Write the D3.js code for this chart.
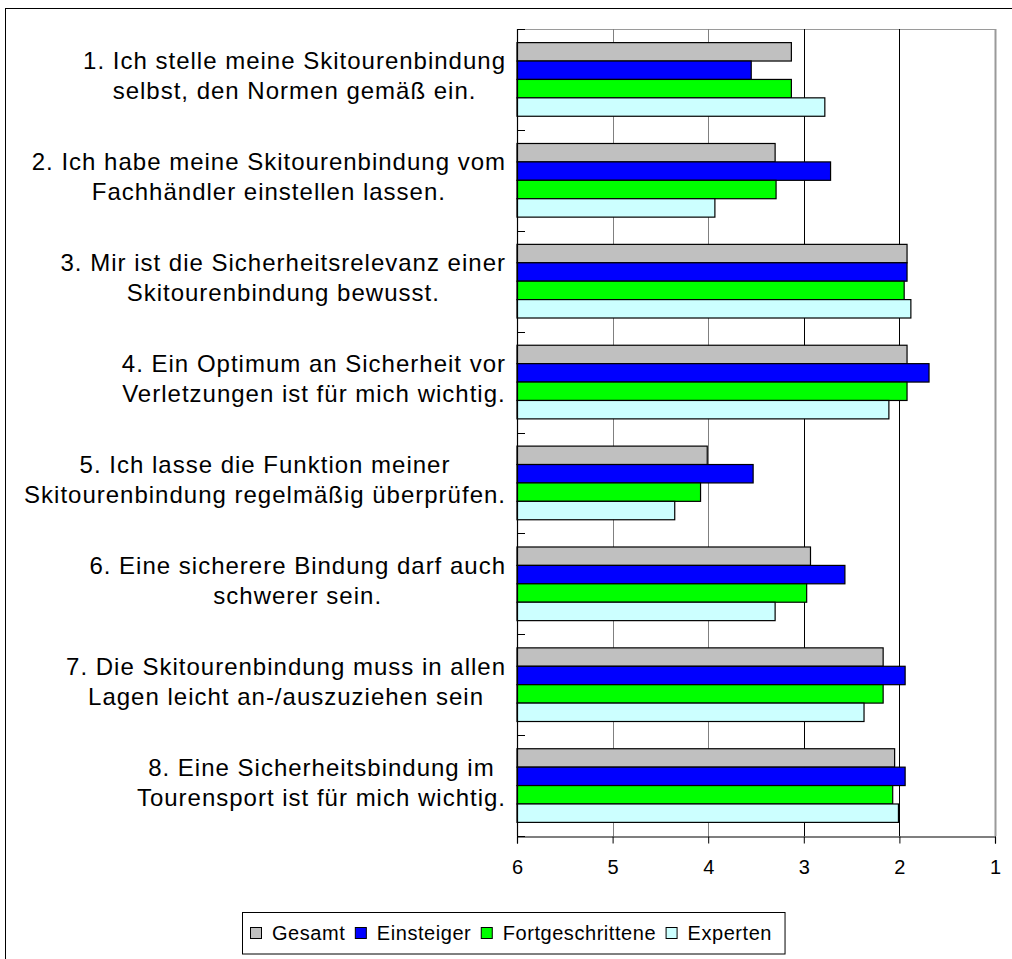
<!DOCTYPE html>
<html>
<head>
<meta charset="utf-8">
<script src="https://cdn.jsdelivr.net/npm/d3@7"></script>
<style>
  html, body { margin: 0; padding: 0; background: #fff; }
  svg { display: block; }
  text { font-family: "Liberation Sans", Arial, Helvetica, sans-serif; fill: #000; }
</style>
</head>
<body>
<svg id="chart" width="1012" height="959"></svg>
<script>
// ---- data ----
const categories = [
  "1. Ich stelle meine Skitourenbindung\nselbst, den Normen gemäß ein.",
  "2. Ich habe meine Skitourenbindung vom\nFachhändler einstellen lassen.",
  "3. Mir ist die Sicherheitsrelevanz einer\nSkitourenbindung bewusst.",
  "4. Ein Optimum an Sicherheit vor\nVerletzungen ist für mich wichtig.",
  "5. Ich lasse die Funktion meiner\nSkitourenbindung regelmäßig überprüfen.",
  "6. Eine sicherere Bindung darf auch\nschwerer sein.",
  "7. Die Skitourenbindung muss in allen\nLagen leicht an-/auszuziehen sein",
  "8. Eine Sicherheitsbindung im\nTourensport ist für mich wichtig."
];
const seriesNames = ["Gesamt", "Einsteiger", "Fortgeschrittene", "Experten"];
const gesamt           = [3.13, 3.30, 1.92, 1.92, 4.01, 2.93, 2.17, 2.05];
const einsteiger       = [3.55, 2.72, 1.92, 1.69, 3.53, 2.57, 1.94, 1.94];
const fortgeschrittene = [3.13, 3.29, 1.95, 1.92, 4.08, 2.97, 2.17, 2.07];
const experten         = [2.78, 3.93, 1.88, 2.11, 4.35, 3.30, 2.37, 2.01];
const tickValues = [6, 5, 4, 3, 2, 1];
const seriesColors = ["#C0C0C0", "#0000FF", "#00FF00", "#CCFFFF"];

const seriesValues = [gesamt, einsteiger, fortgeschrittene, experten];

// ---- layout ----
const svg = d3.select("#chart");
const plot = { left: 517, right: 995, top: 29, bottom: 836 };

// outer frame (cut off at right/bottom like the reference)
svg.append("rect")
  .attr("x", 5.5).attr("y", 8.5)
  .attr("width", 1020).attr("height", 970)
  .attr("fill", "#fff").attr("stroke", "#000").attr("stroke-width", 1);

const x = d3.scaleLinear().domain([6, 1]).range([plot.left, plot.right]);
const y0 = d3.scaleBand().domain(d3.range(categories.length))
  .range([plot.top, plot.bottom]).paddingInner(0.27).paddingOuter(0.135);
const y1 = d3.scaleBand().domain(d3.range(seriesNames.length))
  .range([0, y0.bandwidth()]);
const step = y0.step();

// plot area border (top and right, grey)
svg.append("line")
  .attr("x1", plot.left).attr("x2", plot.right)
  .attr("y1", plot.top + 0.5).attr("y2", plot.top + 0.5)
  .attr("stroke", "#9a9a9a").attr("stroke-width", 1);
svg.append("line")
  .attr("x1", plot.right + 0.5).attr("x2", plot.right + 0.5)
  .attr("y1", plot.top).attr("y2", plot.bottom)
  .attr("stroke", "#9a9a9a").attr("stroke-width", 2);

// vertical gridlines
svg.append("g").selectAll("line")
  .data(tickValues.filter(v => v !== 6 && v !== 1))
  .join("line")
  .attr("x1", d => Math.round(x(d)) + 0.5).attr("x2", d => Math.round(x(d)) + 0.5)
  .attr("y1", plot.top).attr("y2", plot.bottom)
  .attr("stroke", d => d >= 4 ? "#808080" : "#000")
  .attr("stroke-width", 1);

// bars
const groups = svg.append("g").selectAll("g")
  .data(categories.map((c, i) => i))
  .join("g")
  .attr("transform", i => `translate(0,${y0(i)})`);

groups.selectAll("rect")
  .data(i => seriesValues.map((vals, s) => ({ s, v: vals[i] })))
  .join("rect")
  .attr("x", x(6))
  .attr("y", d => y1(d.s))
  .attr("width", d => x(d.v) - x(6))
  .attr("height", y1.bandwidth())
  .attr("fill", d => seriesColors[d.s])
  .attr("stroke", "#000")
  .attr("stroke-width", 1.2);

// left axis line with inward ticks at category boundaries
svg.append("line")
  .attr("x1", plot.left + 0.5).attr("x2", plot.left + 0.5)
  .attr("y1", plot.top).attr("y2", plot.bottom)
  .attr("stroke", "#000").attr("stroke-width", 1.2);
svg.append("g").selectAll("line")
  .data(d3.range(categories.length + 1))
  .join("line")
  .attr("x1", plot.left).attr("x2", plot.left + 8)
  .attr("y1", i => Math.round(plot.top + i * step) + 0.5)
  .attr("y2", i => Math.round(plot.top + i * step) + 0.5)
  .attr("stroke", "#000").attr("stroke-width", 1);

// bottom axis
const xAxis = d3.axisBottom(x).tickValues(tickValues).tickSize(7).tickPadding(16)
  .tickFormat(d3.format("d"));
const gx = svg.append("g")
  .attr("transform", `translate(0,${plot.bottom + 0.5})`)
  .call(xAxis);
gx.select(".domain").attr("stroke", "#000").attr("stroke-width", 1.2);
gx.selectAll(".tick line").attr("stroke", "#000");
gx.selectAll(".tick text")
  .attr("font-size", 20)
  .attr("font-family", "'Liberation Sans', Arial, sans-serif")
  .attr("fill", "#000");

// category labels (right-aligned block, lines centred)
const labelRight = 506;
const labelG = svg.append("g");
categories.forEach((c, i) => {
  const lines = c.split("\n");
  const center = plot.top + i * step + step / 2;
  const t = labelG.append("text")
    .attr("font-size", 24)
    .attr("letter-spacing", "1px")
    .attr("text-anchor", "middle");
  lines.forEach((ln, k) => {
    t.append("tspan").attr("y", center - 10 + k * 30).text(ln);
  });
  let maxW = 0;
  t.selectAll("tspan").each(function () {
    maxW = Math.max(maxW, this.getComputedTextLength());
  });
  t.selectAll("tspan").attr("x", labelRight - maxW / 2);
});

// legend
const legend = svg.append("g");
const legendBox = legend.append("rect")
  .attr("y", 912.5).attr("height", 41.5)
  .attr("fill", "#fff").attr("stroke", "#000").attr("stroke-width", 1);
let lx = 250.5;
const legendLeft = 242.5;
seriesNames.forEach((name, s) => {
  legend.append("rect")
    .attr("x", lx).attr("y", 927.5)
    .attr("width", 11).attr("height", 11)
    .attr("fill", seriesColors[s]).attr("stroke", "#000").attr("stroke-width", 1);
  const t = legend.append("text")
    .attr("x", lx + 21.5).attr("y", 940)
    .attr("font-size", 20)
    .attr("letter-spacing", "0.55px")
    .text(name);
  lx = lx + 21.5 + t.node().getComputedTextLength() + 10;
});
legendBox.attr("x", legendLeft).attr("width", (lx - 10 + 13) - legendLeft);
</script>
</body>
</html>
